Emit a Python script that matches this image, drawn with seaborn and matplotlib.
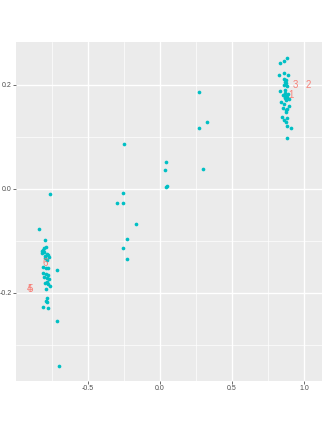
import numpy as np
import pandas as pd
import matplotlib
matplotlib.use("Agg")
import matplotlib.pyplot as plt
import seaborn as sns

# Point coordinates (two embedding dimensions)
right_x = [0.884, 0.859, 0.835, 0.828, 0.863, 0.891, 0.861, 0.868, 0.875, 0.861,
           0.882, 0.833, 0.854, 0.889, 0.880, 0.868, 0.896, 0.838, 0.861, 0.898,
           0.857, 0.884, 0.875, 0.875, 0.849, 0.884, 0.863, 0.873, 0.880, 0.912,
           0.884, 0.875, 0.865, 0.870, 0.878, 0.866, 0.872]
right_y = [0.252, 0.245, 0.241, 0.218, 0.222, 0.219, 0.210, 0.205, 0.203, 0.200,
           0.198, 0.188, 0.180, 0.182, 0.177, 0.174, 0.173, 0.166, 0.162, 0.159,
           0.156, 0.154, 0.151, 0.147, 0.138, 0.136, 0.132, 0.128, 0.120, 0.117,
           0.097, 0.179, 0.176, 0.183, 0.171, 0.190, 0.208]

mid_x = [0.273, 0.329, 0.269, -0.248, 0.042, 0.033, 0.301, 0.040, 0.051,
         -0.257, -0.299, -0.257, -0.167, -0.231, -0.259, -0.227]
mid_y = [0.186, 0.128, 0.117, 0.086, 0.052, 0.036, 0.037, 0.004, 0.006,
         -0.009, -0.027, -0.028, -0.069, -0.097, -0.114, -0.135]

left_x = [-0.766, -0.838, -0.799, -0.794, -0.815, -0.806, -0.822, -0.787, -0.776, -0.799,
          -0.768, -0.799, -0.787, -0.810, -0.792, -0.776, -0.717, -0.810, -0.792, -0.776,
          -0.806, -0.787, -0.768, -0.787, -0.799, -0.776, -0.764, -0.794, -0.787, -0.794,
          -0.787, -0.810, -0.776, -0.713, -0.699, -0.803, -0.818]
left_y = [-0.011, -0.078, -0.098, -0.113, -0.118, -0.122, -0.123, -0.125, -0.128, -0.129,
          -0.131, -0.134, -0.138, -0.150, -0.152, -0.153, -0.157, -0.163, -0.165, -0.166,
          -0.170, -0.172, -0.173, -0.179, -0.182, -0.184, -0.187, -0.193, -0.211, -0.216,
          -0.218, -0.227, -0.230, -0.254, -0.341, -0.114, -0.120]

# Red group labels
label_text = ["1", "2", "3", "5", "4", "6"]
label_x = [0.907, 1.028, 0.942, -0.904, -0.903, -0.799]
label_y = [0.181, 0.200, 0.200, -0.193, -0.194, -0.144]

df = pd.DataFrame({
    "dim1": right_x + mid_x + left_x,
    "dim2": right_y + mid_y + left_y,
})

sns.set_theme(style="darkgrid", rc={
    "axes.facecolor": "#EBEBEB",
    "grid.color": "white",
    "axes.edgecolor": "#EBEBEB",
})
plt.rcParams["font.family"] = ["Liberation Sans", "DejaVu Sans"]

fig = plt.figure(figsize=(3.32, 4.30), dpi=100)
ax = fig.add_axes([16 / 332, 1 - 381 / 430, 306 / 332, 339 / 430])

sns.scatterplot(data=df, x="dim1", y="dim2", color="#00BFC4", s=7,
                linewidth=0, ax=ax, zorder=3)

for t, lx, ly in zip(label_text, label_x, label_y):
    ax.text(lx, ly, t, color="#F8766D", alpha=0.9, fontsize=7,
            ha="center", va="center", zorder=4)

ax.set_xlim(-1.0, 1.125)
ax.set_ylim(-0.370, 0.282)
ax.set_xticks([-0.5, 0.0, 0.5, 1.0])
ax.set_yticks([-0.2, 0.0, 0.2])
ax.set_xticks([-0.75, -0.25, 0.25, 0.75], minor=True)
ax.set_yticks([-0.3, -0.1, 0.1], minor=True)
ax.grid(which="major", color="white", linewidth=1.0)
ax.grid(which="minor", color="white", linewidth=0.5)
ax.set_xticklabels(["-0.5", "0.0", "0.5", "1.0"])
ax.set_yticklabels(["-0.2", "0.0", "0.2"])
ax.tick_params(axis="both", which="major", labelsize=5, labelcolor="#4D4D4D",
               length=2, width=0.5, color="#333333", pad=1, bottom=True, left=True)
ax.tick_params(axis="both", which="minor", length=0)
ax.set_xlabel("")
ax.set_ylabel("")
for sp in ax.spines.values():
    sp.set_visible(False)

fig.savefig("out.png", dpi=100)
